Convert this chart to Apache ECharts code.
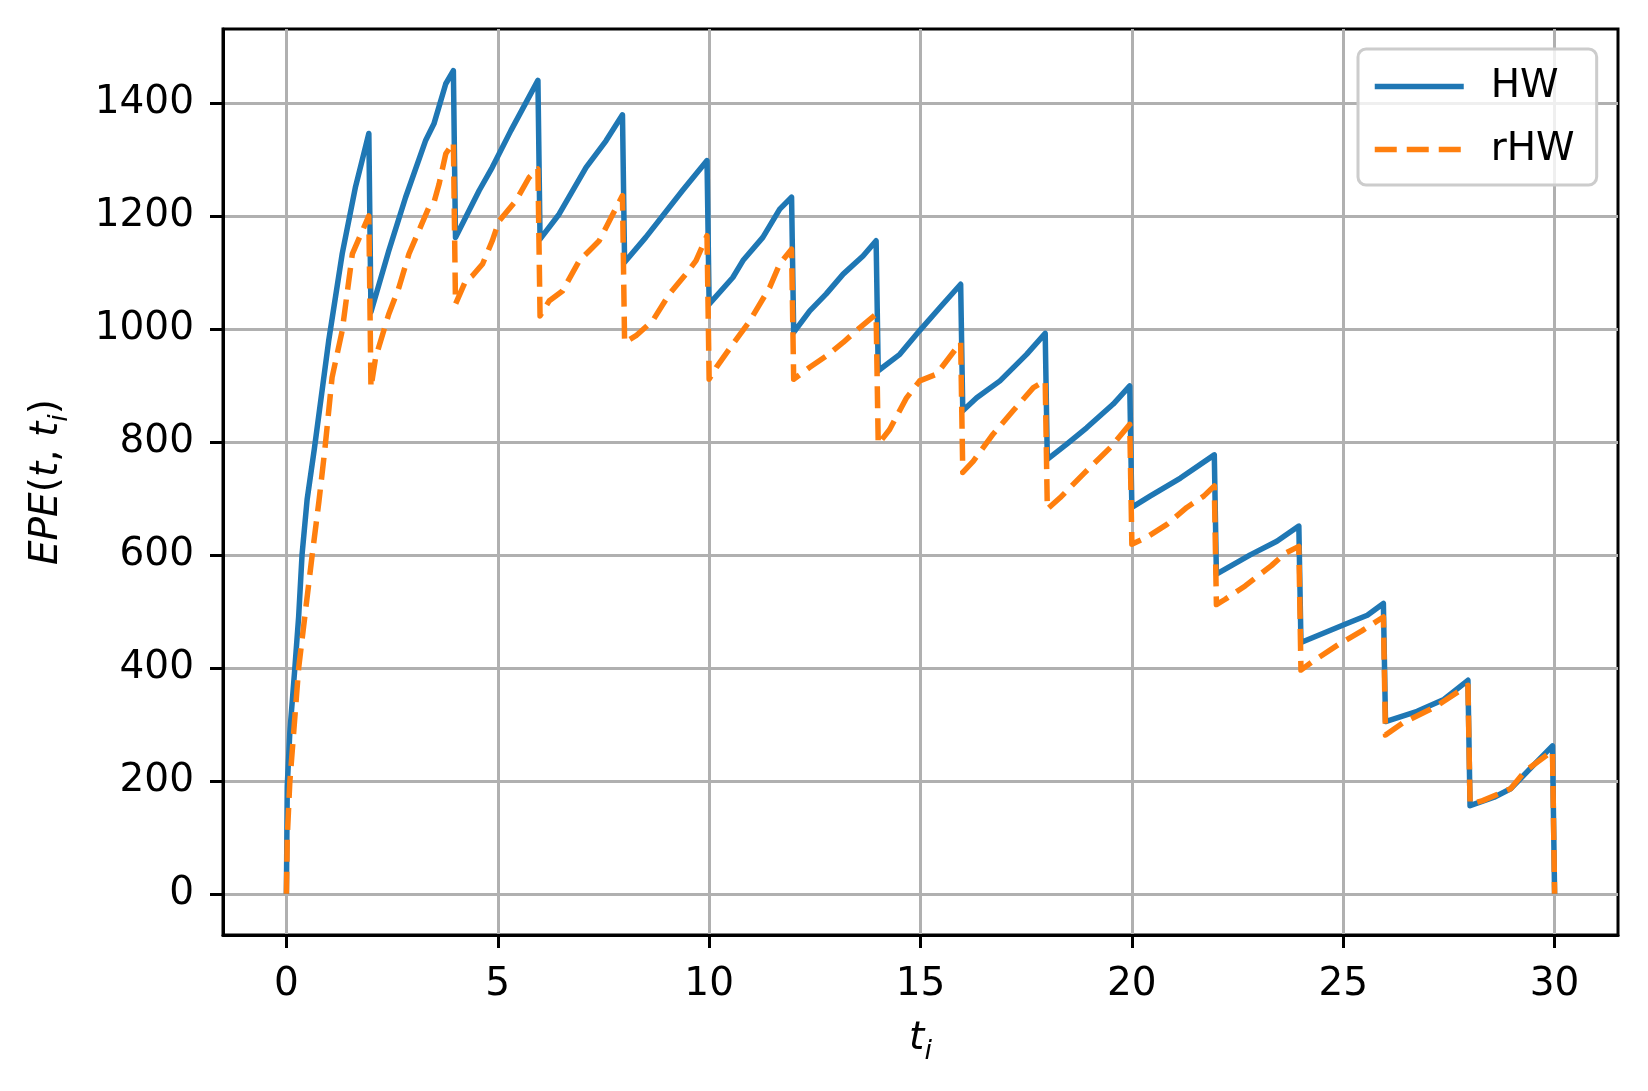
<!DOCTYPE html>
<html>
<head>
<meta charset="utf-8">
<script src="https://cdn.jsdelivr.net/npm/echarts@6/dist/echarts.min.js"></script>
<style>
  html, body { margin: 0; padding: 0; background: #ffffff; }
  #chart { width: 1648px; height: 1091px; }
</style>
</head>
<body>
<div id="chart"></div>
<script>
// ---- data ----
const seriesNames = ['HW', 'rHW'];

const hwT = [0, 0.02, 0.08, 0.2, 0.29, 0.37, 0.49, 0.66, 1.0, 1.32, 1.63, 1.79, 1.95,
  2.0, 2.42, 2.82, 3.29, 3.49, 3.77, 3.95,
  4.0, 4.56, 4.87, 5.31, 5.95,
  6.0, 6.45, 7.09, 7.56, 7.95,
  8.0, 8.5, 9.37, 9.95,
  10.0, 10.56, 10.8, 11.27, 11.67, 11.95,
  12.0, 12.38, 12.77, 13.17, 13.64, 13.95,
  14.0, 14.51, 14.98, 15.46, 15.95,
  16.0, 16.33, 16.88, 17.51, 17.95,
  18.0, 18.46, 18.93, 19.56, 19.95,
  20.0, 20.43, 21.15, 21.95,
  22.0, 22.8, 23.43, 23.95,
  24.0, 25.0, 25.57, 25.95,
  26.0, 26.75, 27.38, 27.95,
  28.0, 28.57, 28.96, 29.52, 29.95, 30.0];
const hwV = [0, 190, 285, 400, 491, 600, 698, 787, 979, 1133, 1250, 1298, 1346,
  1030, 1138, 1233, 1333, 1363, 1434, 1457,
  1162, 1245, 1286, 1351, 1440,
  1159, 1203, 1286, 1333, 1379,
  1118, 1162, 1245, 1298,
  1044, 1091, 1121, 1162, 1212, 1233,
  994, 1032, 1062, 1097, 1129, 1156,
  926, 955, 997, 1038, 1079,
  855, 878, 908, 955, 992,
  769, 796, 825, 867, 899,
  684, 704, 736, 777,
  566, 600, 624, 651,
  445, 476, 493, 514,
  305, 323, 344, 378,
  156, 171, 186, 229, 262, 0];

const rhwT = [0, 0.02, 0.08, 0.29, 0.61, 0.77, 0.91, 1.08, 1.32, 1.56, 1.95,
  2.0, 2.11, 2.42, 2.66, 2.9, 3.37, 3.49, 3.61, 3.77, 3.95,
  4.0, 4.24, 4.4, 4.64, 4.87, 5.03, 5.43, 5.74, 5.95,
  6.0, 6.22, 6.53, 6.93, 7.16, 7.4, 7.72, 7.95,
  8.0, 8.27, 8.66, 9.06, 9.45, 9.69, 9.95,
  10.0, 10.17, 10.56, 10.96, 11.43, 11.67, 11.95,
  12.0, 12.38, 12.77, 13.17, 13.56, 13.95,
  14.0, 14.27, 14.67, 14.98, 15.38, 15.95,
  16.0, 16.25, 16.72, 17.19, 17.67, 17.95,
  18.0, 18.3, 18.85, 19.49, 19.95,
  20.0, 20.35, 20.83, 21.3, 21.7, 21.95,
  22.0, 22.2, 22.68, 23.3, 23.63, 23.95,
  24.0, 24.27, 24.9, 25.45, 25.95,
  26.0, 26.4, 27.2, 27.95,
  28.0, 28.3, 28.96, 29.3, 29.95, 30.0];
const rhwV = [0, 100, 197, 400, 600, 695, 787, 914, 997, 1133, 1200,
  896, 949, 1026, 1073, 1133, 1215, 1224, 1256, 1310, 1330,
  1044, 1085, 1094, 1115, 1156, 1191, 1227, 1268, 1283,
  1023, 1050, 1067, 1121, 1138, 1156, 1203, 1236,
  976, 988, 1014, 1062, 1097, 1121, 1165,
  911, 932, 973, 1014, 1073, 1115, 1141,
  911, 932, 952, 976, 1002, 1026,
  796, 822, 878, 908, 920, 976,
  746, 766, 814, 855, 896, 908,
  681, 701, 743, 790, 831,
  619, 631, 654, 684, 704, 722,
  512, 521, 545, 581, 603, 615,
  396, 411, 442, 466, 490,
  281, 302, 332, 369,
  159, 165, 186, 217, 253, 0];

const xTicks = [0, 5, 10, 15, 20, 25, 30];
const yTicks = [0, 200, 400, 600, 800, 1000, 1200, 1400];

// ---- chart ----
const zip = (a, b) => a.map((v, i) => [v, b[i]]);
const FONT = 'DejaVu Sans';
const chart = echarts.init(document.getElementById('chart'), null, { renderer: 'canvas' });

const axisCommon = {
  axisLine: { show: true, onZero: false, lineStyle: { color: '#000', width: 3 } },
  axisTick: { show: true, inside: false, length: 13, lineStyle: { color: '#000', width: 3 } },
  splitLine: { show: true, lineStyle: { color: '#b0b0b0', width: 3 } },
};

chart.setOption({
  animation: false,
  backgroundColor: '#ffffff',
  grid: {
    left: 223, top: 29, width: 1395, height: 906,
    show: true, borderColor: '#000', borderWidth: 3, backgroundColor: 'transparent',
    containLabel: false, outerBoundsMode: 'none'
  },
  legend: {
    data: seriesNames,
    orient: 'vertical',
    left: 1358, top: 49,
    itemWidth: 89, itemHeight: 38, itemGap: 24,
    padding: [18, 22, 16, 14],
    backgroundColor: 'rgba(255,255,255,0.8)',
    borderColor: '#cccccc', borderWidth: 3, borderRadius: 8,
    lineStyle: { width: 5.5 },
    itemStyle: { color: 'transparent', borderColor: 'transparent', borderWidth: 0, opacity: 0 },
    textStyle: { fontFamily: FONT, fontSize: 39, color: '#000', padding: [0, 0, 0, 22] }
  },
  xAxis: Object.assign({}, axisCommon, {
    type: 'value', min: -1.5, max: 31.5,
    axisTick: Object.assign({}, axisCommon.axisTick, { customValues: xTicks }),
    axisLabel: { customValues: xTicks, margin: 30, fontFamily: FONT, fontSize: 39, color: '#000',
      formatter: (v) => String(v) },
    name: '{i|t}{s|i}',
    nameLocation: 'middle', nameGap: 84,
    nameTextStyle: {
      fontFamily: FONT, fontSize: 39, color: '#000',
      rich: {
        i: { fontFamily: FONT, fontStyle: 'italic', fontSize: 39, lineHeight: 46, verticalAlign: 'top', color: '#000' },
        s: { fontFamily: FONT, fontStyle: 'italic', fontSize: 27, lineHeight: 27, verticalAlign: 'bottom', color: '#000' }
      }
    }
  }),
  yAxis: Object.assign({}, axisCommon, {
    type: 'value', min: -72.9, max: 1530.9,
    axisTick: Object.assign({}, axisCommon.axisTick, { customValues: yTicks }),
    axisLabel: { customValues: yTicks, margin: 29, fontFamily: FONT, fontSize: 39, color: '#000',
      formatter: (v) => String(v) },
    name: '{i|EPE}{n|(}{i|t}{n|, }{i|t}{s|i}{n|)}',
    nameLocation: 'middle', nameGap: 150, nameRotate: 90,
    nameTextStyle: {
      fontFamily: FONT, fontSize: 39, color: '#000',
      rich: {
        i: { fontFamily: FONT, fontStyle: 'italic', fontSize: 39, lineHeight: 46, verticalAlign: 'top', color: '#000' },
        n: { fontFamily: FONT, fontSize: 39, lineHeight: 46, verticalAlign: 'top', color: '#000' },
        s: { fontFamily: FONT, fontStyle: 'italic', fontSize: 27, lineHeight: 27, verticalAlign: 'bottom', color: '#000' }
      }
    }
  }),
  series: [
    {
      name: seriesNames[0], type: 'line', data: zip(hwT, hwV),
      symbol: 'none', showSymbol: false, smooth: false, clip: true,
      color: '#1f77b4',
      lineStyle: { color: '#1f77b4', width: 5.5, join: 'round', cap: 'butt' },
      z: 2
    },
    {
      name: seriesNames[1], type: 'line', data: zip(rhwT, rhwV),
      symbol: 'none', showSymbol: false, smooth: false, clip: true,
      color: '#ff7f0e',
      lineStyle: { color: '#ff7f0e', width: 5.5, type: [22, 10], join: 'round', cap: 'butt' },
      z: 3
    }
  ]
});
</script>
</body>
</html>
